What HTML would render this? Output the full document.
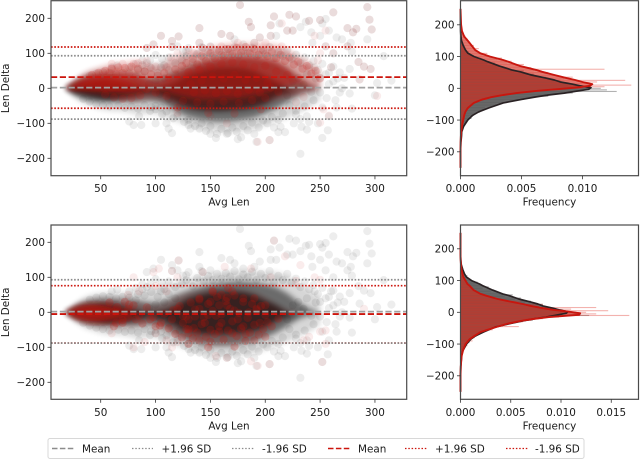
<!DOCTYPE html>
<html>
<head>
<meta charset="utf-8">
<style>
html,body{margin:0;padding:0;background:#fff;width:640px;height:460px;overflow:hidden}
svg{display:block;filter:blur(0.35px)}
text{font-family:"DejaVu Sans","Liberation Sans",sans-serif;font-size:10.4px;fill:#1a1a1a}
</style>
</head>
<body>
<svg id="chart" xmlns="http://www.w3.org/2000/svg" width="640" height="460" viewBox="0 0 640 460">
<defs>
<filter id="soft" x="-10%" y="-15%" width="120%" height="130%"><feGaussianBlur stdDeviation="2.8"/></filter>
<clipPath id="clip-top"><rect x="51" y="1" width="355.7" height="174.7"/></clipPath>
<clipPath id="clip-bottom"><rect x="51" y="225" width="355.7" height="174.3"/></clipPath>
</defs>
<g id="plots"></g>
<g>
<rect x="48" y="438.5" width="536" height="20" rx="2" fill="#fff" stroke="#d8d8d8" stroke-width="1"/>
<line x1="52" x2="74" y1="448.5" y2="448.5" stroke="#8c8c8c" stroke-width="1.5" stroke-dasharray="5.5 2.4"/>
<text x="82" y="452.3">Mean</text>
<line x1="132" x2="153" y1="448.5" y2="448.5" stroke="#8c8c8c" stroke-width="1.3" stroke-dasharray="1.5 1.8"/>
<text x="161.5" y="452.3">+1.96 SD</text>
<line x1="232" x2="254" y1="448.5" y2="448.5" stroke="#8c8c8c" stroke-width="1.3" stroke-dasharray="1.5 1.8"/>
<text x="262" y="452.3">-1.96 SD</text>
<line x1="328" x2="350" y1="448.5" y2="448.5" stroke="#cc140c" stroke-width="1.6" stroke-dasharray="5.5 2.4"/>
<text x="358" y="452.3">Mean</text>
<line x1="405" x2="427" y1="448.5" y2="448.5" stroke="#cc140c" stroke-width="1.3" stroke-dasharray="1.5 1.8"/>
<text x="435" y="452.3">+1.96 SD</text>
<line x1="506" x2="528" y1="448.5" y2="448.5" stroke="#cc140c" stroke-width="1.3" stroke-dasharray="1.5 1.8"/>
<text x="535" y="452.3">-1.96 SD</text>
</g>
</svg>
<script>
// ---------- scatter tick labels ----------
const lenTicks = [50, 100, 150, 200, 250, 300];
const deltaTicks = [200, 100, 0, -100, -200];
const freqTicksTop = [0, 0.005, 0.01];
const freqTicksBottom = [0, 0.005, 0.01, 0.015];

// ---------- reference lines (mean, +1.96 SD, -1.96 SD) ----------
const grayStats = [2, 93, -88];
const redStatsTop = [32, 118, -57];
const redStatsBottom = [-5, 76, -88];

// ---------- scatter density envelopes, by average length ----------
const bandLen = [18,22,26,30,35,40,45,50,55,60,65,70,75,80,85,90,95,100,105,110,115,120,125,130,140,150,160,170,180,190,200,210,220,230,240,250];

const grayOuterHi = [2,12,22,32,42,48,52,55,56,56,56,56,58,60,62,65,68,72,74,78,82,88,92,96,104,110,114,118,118,118,114,114,105,85,65,40];
const grayOuterLo = [-2,-14,-25,-34,-44,-50,-54,-60,-62,-64,-64,-66,-68,-72,-75,-72,-72,-72,-78,-84,-90,-95,-100,-105,-115,-122,-125,-125,-122,-118,-105,-95,-85,-70,-55,-35];
const grayMidHi = [1,9,17,24,30,34,36,38,38,38,36,36,36,35,33,30,28,28,30,35,42,50,56,62,72,80,85,88,88,85,80,72,55,30,10,0];
const grayMidLo = [-1,-10,-18,-24,-30,-34,-36,-38,-38,-38,-38,-38,-38,-40,-38,-36,-36,-38,-42,-50,-60,-68,-76,-82,-90,-95,-96,-95,-90,-84,-72,-58,-40,-20,-8,0];
const grayCoreHi = [0,4,10,14,18,20,22,24,24,22,20,16,12,8,4,0,0,2,4,8,14,22,32,40,50,58,60,60,58,50,35,20,0,-8,-8,-8];
const grayCoreLo = [0,-5,-12,-16,-20,-24,-27,-30,-32,-32,-30,-28,-25,-22,-18,-15,-15,-17,-20,-26,-34,-42,-50,-56,-62,-64,-64,-62,-60,-54,-44,-24,-12,-8,-8,-8];

const redTopOuterHi = [5,10,22,32,42,50,55,60,65,70,72,72,75,78,78,75,65,62,64,75,85,92,95,100,110,118,124,128,128,128,128,124,112,92,75,50];
const redTopOuterLo = [0,-5,-8,-12,-15,-18,-20,-22,-25,-28,-30,-32,-35,-35,-35,-30,-28,-28,-30,-35,-42,-46,-50,-54,-58,-58,-58,-58,-54,-50,-42,-32,-26,-20,-10,0];
const redTopMidHi = [2,6,14,22,30,36,40,44,48,52,52,50,48,45,40,30,22,18,20,28,36,44,52,58,70,78,88,92,92,90,85,78,58,30,10,0];
const redTopMidLo = [2,-2,-3,-4,-5,-6,-7,-8,-10,-12,-12,-14,-15,-14,-10,-6,-2,-2,-4,-8,-14,-18,-22,-25,-30,-30,-28,-28,-25,-20,-12,0,5,15,5,0];
const redTopCoreHi = [2,4,12,17,22,27,30,32,34,34,32,26,20,14,6,4,4,4,4,4,4,4,4,4,4,4,4,4,4,4,4,4,4,4,4,0];
const redTopCoreLo = [2,0,0,0,0,0,-1,-2,-3,-4,-3,-2,0,2,3,4,4,4,4,4,4,4,4,4,4,4,4,4,4,4,4,4,4,4,4,0];

const redBotOuterHi = [2,8,16,24,30,34,36,36,36,35,35,35,35,32,28,22,18,18,20,26,35,45,50,55,60,65,68,68,62,56,42,20,5,0,0,0];
const redBotOuterLo = [-2,-8,-16,-24,-32,-38,-42,-44,-44,-44,-44,-44,-42,-40,-38,-35,-35,-38,-45,-55,-62,-68,-72,-78,-88,-94,-94,-90,-84,-78,-58,-32,-10,0,0,0];
const redBotMidHi = [0,6,14,19,23,25,25,24,22,19,15,10,6,0,-5,-5,-5,-5,-5,-5,-5,-5,-5,-5,-5,-5,-5,-5,-5,-5,-5,-5,-5,-5,-5,-5];
const redBotMidLo = [0,-6,-15,-21,-26,-29,-30,-30,-28,-26,-24,-20,-15,-10,-5,-5,-5,-5,-5,-5,-5,-5,-5,-5,-5,-5,-5,-5,-5,-5,-5,-5,-5,-5,-5,-5];
const redBotCoreHi = [0,3,9,12,14,16,16,14,11,7,4,0,-4,-4,-4,-4,-4,-4,-4,-4,-4,-4,-4,-4,-4,-4,-4,-4,-4,-4,-4,-4,-4,-4,-4,-4];
const redBotCoreLo = [0,-4,-11,-14,-17,-19,-19,-18,-15,-12,-9,-6,-4,-4,-4,-4,-4,-4,-4,-4,-4,-4,-4,-4,-4,-4,-4,-4,-4,-4,-4,-4,-4,-4,-4,-4];

// ---------- individually visible scatter points [avg len, len delta] ----------
const grayPoints = [[177,238],[293,232],[295,196],[297,168],[293,140],[308,92],[255,198],[262,217],[222,210],[228,205],[208,205],[237,190],[240,193],[250,195],[252,185],[275,172],[283,170],[280,160],[278,130],[270,140],[265,145],[258,165],[250,150],[242,160],[243,130],[232,175],[225,165],[213,185],[205,180],[187,175],[185,190],[140,172],[105,150],[121,148],[115,135],[98,125],[92,115],[115,118],[140,130],[143,115],[160,155],[168,150],[172,140],[195,145],[190,130],[205,150],[210,150],[220,165],[255,120],[262,100],[275,120],[279,105],[285,75],[290,62],[296,55],[302,15],[315,22],[300,-20],[286,25],[277,55],[272,30],[268,45],[260,60],[255,40],[250,30],[245,60],[262,20],[270,0],[277,-15],[279,-58],[265,-55],[258,-80],[252,-55],[257,-120],[252,-142],[248,-100],[238,-118],[233,-110],[232,-187],[238,-80],[228,-75],[218,-125],[212,-125],[204,-148],[192,-153],[190,-130],[178,-140],[175,-145],[165,-130],[155,-142],[150,-130],[140,-115],[130,-105],[132,-115],[115,-128],[112,-115],[110,-100],[100,-100],[87,-105],[80,-105],[76,-95],[85,-80],[95,-65],[100,-60],[105,-55],[82,70],[88,80],[100,95],[105,60],[60,60],[65,65],[95,80],[120,120],[130,115],[125,105],[150,120],[180,125],
[84,52],[90,48],[96,58],[102,44],[108,66],[112,52],[118,72],[124,80],[128,92],[134,74],[138,98],[144,88],[148,104],[152,92],[156,110],[160,96],[164,112],[168,102],[172,118],[176,94],[180,108],[184,100],[188,116],[192,92],[196,110],[200,98],[204,118],[208,86],[212,104],[216,92],[220,110],[224,84],[228,96],[232,72],[236,88],[240,66],[244,78],[248,52],[252,70],[258,44],[262,62],[266,28],[258,12],[246,28],[238,40],[250,-12],[244,-34],[236,-52],[228,-64],[222,-48],[216,-72],[212,-90],[206,-82],[202,-100],[198,-92],[194,-112],[188,-98],[184,-120],[180,-108],[174,-124],[170,-112],[166,-128],[160,-116],[156,-130],[150,-108],[146,-122],[142,-100],[136,-108],[130,-90],[126,-96],[120,-78],[116,-86],[110,-66],[106,-74],[100,-50],[96,-54],[90,-48],[84,-58],[78,-52],[72,-56],[66,-50],[58,-52],[52,-48],[46,-44],[40,-38],[34,-30],[40,36],[46,42],[52,46],[58,44],[64,40],[70,44],[76,42],[82,34],[100,22],[104,-16],[94,12],[88,-6],[108,28],[112,-30],[118,40],[122,-52],[230,30],[235,10],[242,-10],[225,20],[220,-20],[256,-28],[268,-12],[264,-34],[226,-100],[232,-88],[240,-96],[208,-112],[214,-110],[142,118],[128,106],[112,88],[106,84],[92,72],[88,66],[76,60]];
const redOutliersTop = [[177,238],[293,232],[295,196],[297,168],[262,217],[208,205],[222,210],[228,205],[240,193],[250,195],[275,172],[283,170],[280,160],[255,165],[245,150],[225,165],[215,185],[205,180],[187,175],[185,190],[140,172],[105,150],[121,148],[115,135],[98,125],[92,115],[115,118],[140,130],[143,115],[160,155],[168,150],[195,145],[205,150],[220,165],[255,120],[262,100],[275,120],[285,75],[290,62],[296,55],[302,-22],[286,25],[260,60],[250,100],[248,80],[240,60],[235,-25],[250,-98],[258,-78],[253,-60],[228,-40],[193,-153],[204,-148],[165,-100],[150,-80],[120,-70],[80,70],[70,70],[60,70],[95,60],[110,60],[135,100],[160,120],[175,130],[200,130],[215,120],[130,110],[150,118],[190,130],[120,100],[114,88],[100,62],[92,78],[84,72]];
const redBodyTop = [[42,38],[48,44],[54,50],[60,56],[66,60],[72,58],[78,62],[84,56],[90,48],[96,40],[102,36],[108,44],[112,30],[118,54],[124,64],[128,72],[134,84],[138,68],[142,92],[146,78],[150,100],[154,86],[158,106],[162,92],[166,112],[170,98],[174,116],[178,102],[182,118],[186,100],[190,112],[194,96],[198,108],[202,92],[206,104],[210,86],[214,96],[218,78],[222,88],[226,68],[230,76],[234,56],[238,64],[242,42],[246,50],[250,28],[130,46],[140,52],[150,62],[160,70],[170,74],[180,68],[190,60],[200,64],[210,48],[220,38],[132,12],[142,22],[152,34],[162,28],[172,38],[182,24],[192,30],[202,16],[135,-12],[145,-6],[155,-14],[165,-8],[175,-16],[185,-4],[195,-12],[205,2],[125,-36],[138,-40],[150,-44],[162,-38],[176,-42],[188,-34],[200,-28],[212,-10],[120,-55],[148,-70],[172,-72],[196,-60],[110,-22],[100,-12],[92,-2],[86,-20],[78,-28],[70,-30],[62,-26],[54,-18]];
const redOutliersBottom = [[208,205],[121,148],[98,115],[103,125],[80,100],[60,-60],[115,118],[143,115],[163,130],[187,125],[187,-140],[165,-130],[155,-125],[193,-153],[204,-148],[252,-142],[218,160],[232,135],[245,100],[250,93],[228,90],[205,100],[100,75],[85,60],[75,50],[100,-60],[110,-80],[115,-100],[120,-85],[80,-100],[90,-85],[250,-55],[255,-52],[235,-80],[290,10],[110,60],[120,100],[240,-70],[255,-90]];
const redBodyBottom = [[130,-60],[140,-80],[150,-50],[160,-30],[170,-60],[180,-40],[190,-80],[200,-70],[130,-20],[140,10],[150,30],[160,50],[170,60],[180,30],[190,40],[200,20],[140,40],[155,-10],[165,20],[175,-20],[185,0],[195,-30],[145,-30],[135,-45],[125,-30],[120,10],[125,-10],[115,-20],[105,-30],[95,-20],[100,-40],[85,-10],[75,-15],[70,-30],[65,15],[75,10],[80,20],[158,-55],[172,5],[148,-8],[182,-62],[192,10],[136,-12],[128,-48],[165,42],[152,58],[82,-20],[88,-32],[76,22],[92,14],[98,-14],[104,-38],[112,-46],[118,-62],[124,-72],[130,-48],[134,-74],[138,-58],[142,-34],[146,-70],[150,-84],[154,-62],[158,-40],[162,-78],[166,-52],[170,-26],[174,-68],[178,-46],[182,-82],[186,-58],[190,-36],[194,-64],[198,-48],[202,-28],[206,-40],[212,-18],[128,-12],[136,8],[144,-14],[152,4],[160,-6],[168,10],[176,-2],[184,-16],[192,6],[200,-8],[132,28],[140,36],[148,24],[156,44],[164,32],[172,48],[180,40],[188,24],[196,18],[152,62],[166,70],[158,20],[122,18],[116,6],[108,-4],[70,-22],[64,-30],[58,28],[72,30],[62,-40],[148,-100],[172,-98],[130,-90]];

// ---------- density curves ----------
const kdeDelta = [-250,-200,-170,-150,-137,-120,-100,-85,-74,-62,-46,-35,-27,-21,-15,-8,-3,2,8,13,20,26,32,42,52,58,70,84,89,100,111,121,135,150,163,180,200,250];
const kdeGray = [0,0,0.00003,0.00008,0.0001,0.00025,0.0006,0.001,0.0015,0.0023,0.0035,0.005,0.0062,0.0072,0.0085,0.0097,0.0105,0.0107,0.0098,0.0092,0.0082,0.0077,0.007,0.0058,0.0049,0.0042,0.0032,0.0022,0.0019,0.0011,0.0006,0.0004,0.00022,0.00008,0.00003,0.00001,0,0];
const kdeRedTop = [0,0,0.00001,0.00003,0.00006,0.00012,0.00022,0.0003,0.0004,0.0006,0.0011,0.0018,0.0026,0.0035,0.0046,0.0063,0.0078,0.0094,0.0106,0.0108,0.01,0.0094,0.0087,0.0077,0.0067,0.0062,0.0049,0.0039,0.0035,0.0024,0.0016,0.0012,0.0009,0.0006,0.0003,0.00012,0.00005,0];
const kdeRedBottom = [0,0,0.00003,0.00008,0.00012,0.00025,0.0005,0.0009,0.0014,0.002,0.0036,0.0048,0.006,0.0072,0.0088,0.0118,0.0119,0.0108,0.0092,0.0082,0.007,0.0062,0.0052,0.0037,0.0026,0.002,0.0013,0.0009,0.0007,0.0005,0.0003,0.0002,0.0001,0.00005,0.00002,0,0,0];

// ---------- histograms (frequency x 10000, one per delta bin) ----------
const histCenters = [-150,-145,-140,-135,-130,-125,-120,-115,-110,-105,-100,-95,-90,-85,-80,-75,-70,-65,-60,-55,-50,-45,-40,-35,-30,-25,-20,-15,-10,-5,0,5,10,15,20,25,30,35,40,45,50,55,60,65,70,75,80,85,90,95,100,105,110,115,120,125,130,135,140,145,150,155,160,165,170];
const histGray = [0,1,0,1,2,1,3,2,4,5,6,9,7,11,12,16,15,22,20,27,29,38,36,52,55,72,70,92,128,120,115,102,88,90,78,82,64,70,54,60,44,52,38,30,33,22,28,20,15,17,10,9,6,7,3,4,2,3,1,2,1,0,1,0,0];
const histRedTop = [0,1,0,1,1,0,2,1,2,2,3,2,4,3,4,5,4,7,6,9,10,13,15,22,24,33,38,52,65,82,100,118,140,105,112,135,85,92,78,74,72,60,118,58,48,52,38,42,30,34,24,18,22,14,12,15,9,11,7,8,5,6,3,4,2];
const histRedBottom = [1,0,2,1,2,1,3,2,4,7,5,8,12,9,14,12,18,22,20,32,30,58,42,52,62,70,82,98,168,135,125,147,110,135,78,82,56,60,44,36,28,24,18,14,15,10,12,9,7,6,5,4,3,2,2,3,1,2,1,0,1,0,0,0,0];

const SVGNS = 'http://www.w3.org/2000/svg';
const root = document.getElementById('plots');
function make(tag, attrs, parent) {
  const node = document.createElementNS(SVGNS, tag);
  for (const k in attrs) node.setAttribute(k, attrs[k]);
  parent.appendChild(node);
  return node;
}
const RED = '#c4120a';
const lenX = v => 100.7 + (v - 50) * 1.097;

function drawBand(parent, hi, lo, scaleY, color, opacity, name) {
  let d = '';
  bandLen.forEach((v, i) => { d += (i ? 'L' : 'M') + lenX(v).toFixed(1) + ' ' + scaleY(hi[i]).toFixed(1); });
  for (let i = bandLen.length - 1; i >= 0; i--) d += 'L' + lenX(bandLen[i]).toFixed(1) + ' ' + scaleY(lo[i]).toFixed(1);
  const el = make('path', {d: d + 'Z', fill: color, opacity: opacity, filter: 'url(#soft)'}, parent);
  
  
}
function drawPoints(parent, pts, scaleY, color, opacity, name) {
  pts.forEach(p => {
    const el = make('circle', {cx: lenX(p[0]).toFixed(1), cy: scaleY(p[1]).toFixed(1), r: 4.1, fill: color, opacity: opacity}, parent);
    
    
  });
}
function drawStats(parent, stats, scaleY, meanColor, dotColor, name) {
  const mean = make('line', {x1: 51, x2: 406.7, y1: scaleY(stats[0]), y2: scaleY(stats[0]), stroke: meanColor, 'stroke-width': 1.8, 'stroke-dasharray': '6.2 2.6'}, parent);
  
  
  const upper = make('line', {x1: 51, x2: 406.7, y1: scaleY(stats[1]), y2: scaleY(stats[1]), stroke: dotColor, 'stroke-width': 1.7, 'stroke-dasharray': '1.6 1.7'}, parent);
  
  
  const lower = make('line', {x1: 51, x2: 406.7, y1: scaleY(stats[2]), y2: scaleY(stats[2]), stroke: dotColor, 'stroke-width': 1.7, 'stroke-dasharray': '1.6 1.7'}, parent);
  
  
}
function drawFrame(parent, l, r, t, b, name) {
  const el = make('rect', {x: l, y: t, width: r - l, height: b - t, fill: 'none', stroke: '#4a4a4a', 'stroke-width': 1.2}, parent);
  
  
}
function yTicks(parent, scaleY, axisX) {
  deltaTicks.forEach(t => {
    const y = scaleY(t);
    const tick = make('line', {x1: axisX - 3.5, x2: axisX, y1: y, y2: y, stroke: '#333', 'stroke-width': 0.8}, parent);
    
    
    const label = make('text', {x: axisX - 6, y: y + 3.8, 'text-anchor': 'end'}, parent);
    label.textContent = String(t).replace('-', '\u2212');
    
    
  });
}
function xTick(parent, x, axisY, text) {
  const tick = make('line', {x1: x, x2: x, y1: axisY, y2: axisY + 3.5, stroke: '#333', 'stroke-width': 0.8}, parent);
  
  
  const label = make('text', {x: x, y: axisY + 16.5, 'text-anchor': 'middle'}, parent);
  label.textContent = text;
  
  
}

function drawScatter(opts) {
  const g = make('g', {}, root);
  
  
  const scaleY = v => opts.zero - v * 0.35;
  const clip = make('g', {'clip-path': 'url(#' + opts.clip + ')'}, g);
  
  
  drawBand(clip, grayOuterHi, grayOuterLo, scaleY, '#000', 0.16, 'gray-cloud-outer');
  drawBand(clip, grayMidHi, grayMidLo, scaleY, '#000', 0.5, 'gray-cloud-mid');
  drawBand(clip, grayCoreHi, grayCoreLo, scaleY, '#000', 0.68, 'gray-cloud-core');
  drawPoints(clip, grayPoints, scaleY, '#000', 0.07, 'gray-scatter-point');
  drawBand(clip, opts.r[0], opts.r[1], scaleY, RED, opts.rOp[0], 'red-cloud-outer');
  drawBand(clip, opts.r[2], opts.r[3], scaleY, RED, opts.rOp[1], 'red-cloud-mid');
  drawBand(clip, opts.r[4], opts.r[5], scaleY, RED, opts.rOp[2], 'red-cloud-core');
  drawPoints(clip, opts.redOutliers, scaleY, RED, opts.outlierOp, 'red-scatter-point');
  drawPoints(clip, opts.redBody, scaleY, RED, opts.bodyOp, 'red-scatter-point');
  drawStats(clip, opts.redStats, scaleY, '#cc140c', '#cc140c', 'red');
  drawStats(clip, grayStats, scaleY, '#a2a2a2', '#8a8a8a', 'gray');
  drawFrame(g, 51, 406.7, opts.top, opts.bottom, 'scatter-frame');
  yTicks(g, scaleY, 51);
  lenTicks.forEach(t => xTick(g, lenX(t), opts.bottom, String(t)));
  const xt = make('text', {x: 229, y: opts.bottom + 30, 'text-anchor': 'middle'}, g);
  xt.textContent = 'Avg Len';
  
  
  const yt = make('text', {x: 0, y: 0, 'text-anchor': 'middle', transform: 'translate(9 ' + opts.zero + ') rotate(-90)'}, g);
  yt.textContent = 'Len Delta';
  
  
}

function drawHistogram(opts) {
  const g = make('g', {}, root);
  
  
  const scaleY = v => opts.zero - v * 0.3175;
  const scaleX = f => 460.5 + f * opts.pxPerUnit;
  const marks = make('g', {}, g);
  
  
  const area = values => {
    let d = 'M460.5 ' + scaleY(kdeDelta[0]).toFixed(1);
    kdeDelta.forEach((v, i) => { d += 'L' + scaleX(values[i]).toFixed(1) + ' ' + scaleY(v).toFixed(1); });
    return d + 'L460.5 ' + scaleY(kdeDelta[kdeDelta.length - 1]).toFixed(1) + 'Z';
  };
  const grayArea = make('path', {d: area(kdeGray), fill: '#444', opacity: 0.78}, marks);
  
  
  histCenters.forEach((c, i) => {
    const bar = make('rect', {x: 460.5, y: (scaleY(c) - 0.55).toFixed(2), width: (histGray[i] * 1e-4 * opts.pxPerUnit).toFixed(1), height: 1.1, fill: '#555', opacity: 0.45}, marks);
    
    
  });
  const redArea = make('path', {d: area(opts.kde), fill: '#c82818', opacity: 0.55}, marks);
  
  
  histCenters.forEach((c, i) => {
    const bar = make('rect', {x: 460.5, y: (scaleY(c) - 0.55).toFixed(2), width: (opts.hist[i] * 1e-4 * opts.pxPerUnit).toFixed(1), height: 1.1, fill: '#e0352a', opacity: 0.38}, marks);
    
    
  });
  const curve = values => values.map((f, i) => scaleX(f).toFixed(1) + ',' + scaleY(kdeDelta[i]).toFixed(1)).join(' ');
  const grayLine = make('polyline', {points: curve(kdeGray), fill: 'none', stroke: '#2a2224', 'stroke-width': 1.7, 'stroke-linejoin': 'round'}, marks);
  
  
  const redLine = make('polyline', {points: curve(opts.kde), fill: 'none', stroke: '#c8160e', 'stroke-width': 1.9, 'stroke-linejoin': 'round'}, marks);
  
  
  drawFrame(g, 460.5, 638.5, opts.top, opts.bottom, 'histogram-frame');
  yTicks(g, scaleY, 460.5);
  opts.ticks.forEach(t => xTick(g, scaleX(t), opts.bottom, t.toFixed(3)));
  const xt = make('text', {x: 549.5, y: opts.bottom + 30, 'text-anchor': 'middle'}, g);
  xt.textContent = 'Frequency';
  
  
}

drawScatter({name: 'top-scatter-panel', clip: 'clip-top', zero: 88.3, top: 0.7, bottom: 175.7,
  r: [redTopOuterHi, redTopOuterLo, redTopMidHi, redTopMidLo, redTopCoreHi, redTopCoreLo],
  rOp: [0.28, 0.5, 0.5], redOutliers: redOutliersTop, outlierOp: 0.08, redBody: redBodyTop, bodyOp: 0.17, redStats: redStatsTop});
drawScatter({name: 'bottom-scatter-panel', clip: 'clip-bottom', zero: 312.3, top: 225, bottom: 399.3,
  r: [redBotOuterHi, redBotOuterLo, redBotMidHi, redBotMidLo, redBotCoreHi, redBotCoreLo],
  rOp: [0.12, 0.55, 0.55], redOutliers: redOutliersBottom, outlierOp: 0.08, redBody: redBodyBottom, bodyOp: 0.22, redStats: redStatsBottom});
drawHistogram({name: 'top-histogram-panel', zero: 88.3, top: 0.7, bottom: 175.7, pxPerUnit: 12200,
  kde: kdeRedTop, hist: histRedTop, ticks: freqTicksTop});
drawHistogram({name: 'bottom-histogram-panel', zero: 312.3, top: 225, bottom: 399.3, pxPerUnit: 10050,
  kde: kdeRedBottom, hist: histRedBottom, ticks: freqTicksBottom});
</script>
</body>
</html>
